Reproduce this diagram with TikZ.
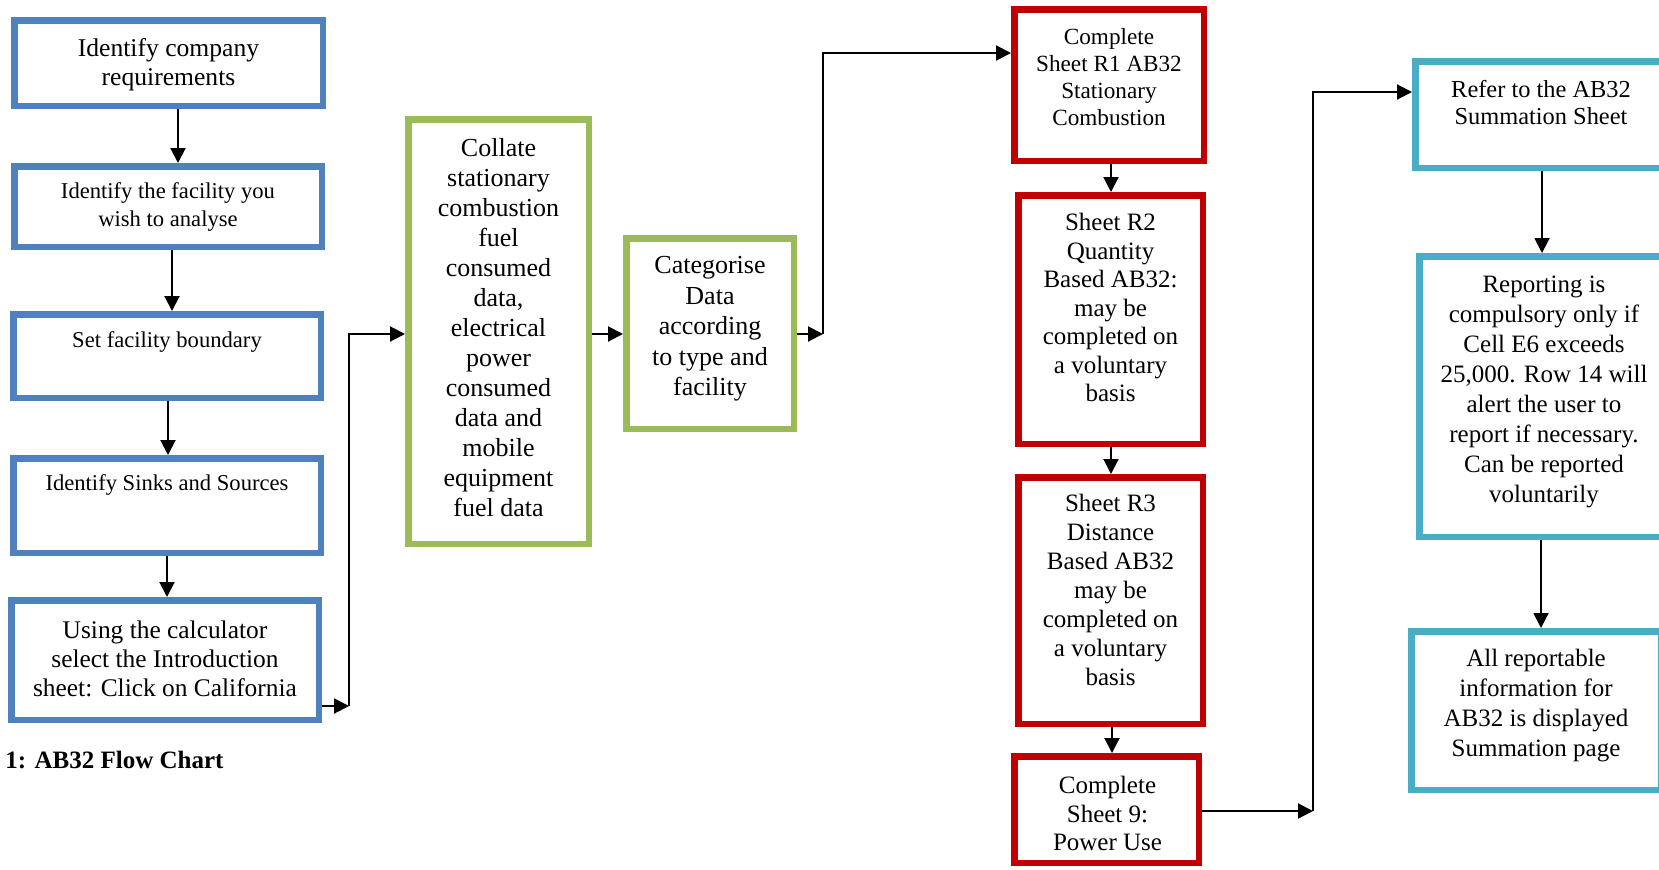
\documentclass[tikz,border=0pt]{standalone}
\usepackage{fontspec}
\setmainfont{Liberation Serif}
\usetikzlibrary{arrows.meta,calc}
\definecolor{cblue}{HTML}{4F81BD}
\definecolor{cgreen}{HTML}{9BBB59}
\definecolor{cred}{HTML}{C00000}
\definecolor{ccyan}{HTML}{4BACC6}
\begin{document}
\begin{tikzpicture}[x=0.5pt,y=-0.5pt,
 box/.style={draw=#1, line width=3.25pt, rectangle, inner sep=0pt, fill=white},
 sz/.style 2 args={minimum width=#1*0.5pt, minimum height=#2*0.5pt},
 arr/.style={line width=1pt, -{Triangle[length=7.5pt,width=7.5pt]}},
 txt/.style 2 args={align=center, inner sep=0pt, font=\fontsize{#1}{#2}\selectfont}]
\useasboundingbox (0,0) rectangle (1659,869);
\clip (0,0) rectangle (1659,869);
\fill[white] (0,0) rectangle (1659,869);
% boxes
\node[box=cblue, sz={308.5}{85.5}] (b1) at (168.5,63) {};
\node[box=cblue, sz={307.5}{80.5}] (b2) at (168,206.5) {};
\node[box=cblue, sz={307.5}{83.5}] (b3) at (167,356) {};
\node[box=cblue, sz={307.5}{94.5}] (b4) at (167,505.5) {};
\node[box=cblue, sz={307.5}{119.5}] (b5) at (165,660) {};
\node[box=cgreen, sz={180.5}{424.5}] (g1) at (498.5,331.5) {};
\node[box=cgreen, sz={167.5}{190.5}] (g2) at (710,333.5) {};
\node[box=cred, sz={189.5}{151.5}] (r1) at (1109,85) {};
\node[box=cred, sz={184.5}{248.5}] (r2) at (1110.5,319.5) {};
\node[box=cred, sz={184.5}{246.5}] (r3) at (1110.5,600.5) {};
\node[box=cred, sz={184.5}{106.5}] (r4) at (1106.5,809.5) {};
\node[box=ccyan, sz={251.5}{106.5}] (c1) at (1541,114.5) {};
\node[box=ccyan, sz={249.5}{280.5}] (c2) at (1544,396.5) {};
\node[box=ccyan, sz={249.5}{158.5}] (c3) at (1536,710.5) {};
% texts
\node[txt={12.8}{14.5}] (t1) at (168.5,64.5) {Identify company\\requirements};
\node[txt={11.3}{14}] (t2) at (168,207) {Identify the facility you\\wish to analyse};
\node[txt={11.3}{14}] (t3) at (167,342) {Set facility boundary};
\node[txt={11.3}{14}] (t4) at (167,485) {Identify Sinks and Sources};
\node[txt={12.7}{14.5}] (t5) at (165,659) {Using the calculator\\select the Introduction\\sheet: Click on California};
\node[txt={13}{15}] (tg1) at (498.5,328) {Collate\\stationary\\combustion\\fuel\\consumed\\data,\\electrical\\power\\consumed\\data and\\mobile\\equipment\\fuel data};
\node[txt={13}{15.25}] (tg2) at (710,329) {Categorise\\Data\\according\\to type and\\facility};
\node[txt={11.6}{13.5}] (tr1) at (1109,77.5) {Complete\\Sheet R1 AB32\\Stationary\\Combustion};
\node[txt={12.5}{14.25}] (tr2) at (1110.5,307.5) {Sheet R2\\Quantity\\Based AB32:\\may be\\completed on\\a voluntary\\basis};
\node[txt={12.5}{14.5}] (tr3) at (1110.5,590) {Sheet R3\\Distance\\Based AB32\\may be\\completed on\\a voluntary\\basis};
\node[txt={12.5}{14.25}] (tr4) at (1107.5,813.5) {Complete\\Sheet 9:\\Power Use};
\node[txt={12.2}{13.5}] (tc1) at (1541,103) {Refer to the AB32\\Summation Sheet};
\node[txt={12.5}{15}] (tc2) at (1544,392) {Reporting is\\compulsory only if\\Cell E6 exceeds\\25,000. Row 14 will\\alert the user to\\report if necessary.\\Can be reported\\voluntarily};
\node[txt={12.5}{15}] (tc3) at (1536,706) {All reportable\\information for\\AB32 is displayed\\Summation page};
\node[anchor=west, inner sep=0pt, font=\fontsize{12.5}{14}\selectfont\bfseries] (cap) at (5,760) {1: AB32 Flow Chart};
% connector coordinates
\coordinate (x12) at (178,0);
\coordinate (x23) at (172,0);
\coordinate (x34) at (168,0);
\coordinate (x45) at (167,0);
\coordinate (k1) at (349,706);
\coordinate (k2) at (349,334);
\coordinate (k3) at (823,334);
\coordinate (k4) at (823,53);
\coordinate (xr) at (1111,0);
\coordinate (xr3) at (1112,0);
\coordinate (k5) at (1313,811);
\coordinate (k6) at (1313,92);
\coordinate (xc) at (1542,0);
\coordinate (xc2) at (1541,0);
% connectors
\draw[arr] (b1.south -| x12) -- (b2.north -| x12);
\draw[arr] (b2.south -| x23) -- (b3.north -| x23);
\draw[arr] (b3.south -| x34) -- (b4.north -| x34);
\draw[arr] (b4.south -| x45) -- (b5.north -| x45);
\draw[arr] (b5.east |- k1) -- (k1);
\draw[arr] (k1) -- (k2) -- (g1.west |- k2);
\draw[arr] (g1.east |- k2) -- (g2.west |- k2);
\draw[arr] (g2.east |- k3) -- (k3);
\draw[arr] (k3) -- (k4) -- (r1.west |- k4);
\draw[arr] (r1.south -| xr) -- (r2.north -| xr);
\draw[arr] (r2.south -| xr) -- (r3.north -| xr);
\draw[arr] (r3.south -| xr3) -- (r4.north -| xr3);
\draw[arr] (r4.east |- k5) -- (k5);
\draw[arr] (k5) -- (k6) -- (c1.west |- k6);
\draw[arr] (c1.south -| xc) -- (c2.north -| xc);
\draw[arr] (c2.south -| xc2) -- (c3.north -| xc2);
\end{tikzpicture}
\end{document}
